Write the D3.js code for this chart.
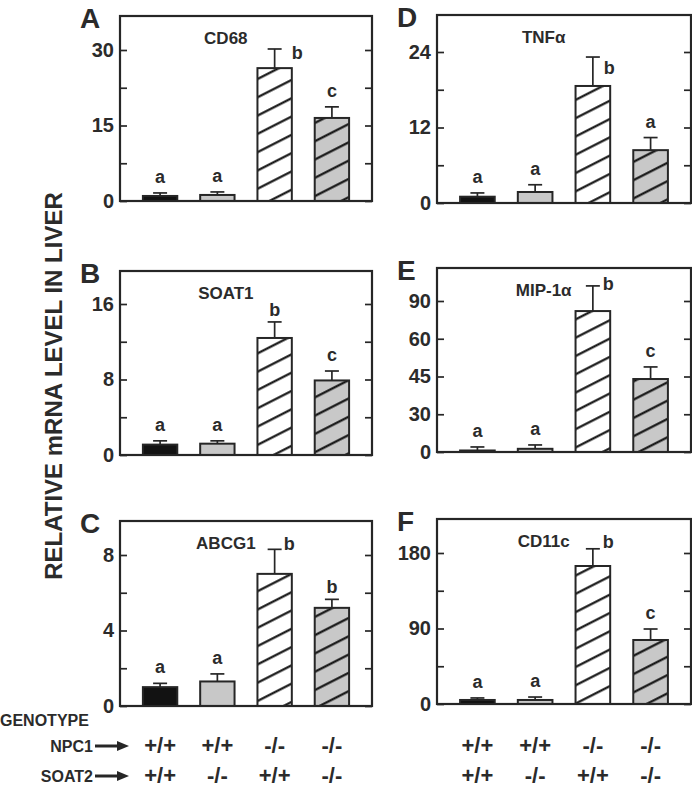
<!DOCTYPE html>
<html>
<head>
<meta charset="utf-8">
<script src="https://cdn.jsdelivr.net/npm/d3@7"></script>
<style>
  html, body { margin: 0; padding: 0; background: #fff; }
  svg { display: block; }
  text { font-family: "Liberation Sans", Arial, Helvetica, sans-serif; font-weight: bold; fill: #2b2b2b; }
</style>
</head>
<body>
<script>
// ---------------- DATA ----------------
const groups = ["NPC1+/+ SOAT2+/+", "NPC1+/+ SOAT2-/-", "NPC1-/- SOAT2+/+", "NPC1-/- SOAT2-/-"];
const npc1Genotype = ["+/+", "+/+", "-/-", "-/-"];
const soat2Genotype = ["+/+", "-/-", "+/+", "-/-"];

const panelLetters = ["A", "B", "C", "D", "E", "F"];
const genes = ["CD68", "SOAT1", "ABCG1", "TNFα", "MIP-1α", "CD11c"];

// means and error (SEM) per gene, order = groups
const meanCD68 = [1.0, 1.2, 26.4, 16.5];
const semCD68 = [0.6, 0.6, 3.8, 2.2];
const meanSOAT1 = [1.1, 1.2, 12.4, 7.9];
const semSOAT1 = [0.4, 0.3, 1.7, 1.0];
const meanABCG1 = [1.0, 1.3, 7.0, 5.2];
const semABCG1 = [0.2, 0.4, 1.3, 0.45];
const meanTNFa = [1.0, 1.75, 18.6, 8.4];
const semTNFa = [0.6, 1.15, 4.6, 2.0];
const meanMIP1a = [0.9, 1.9, 84.0, 43.5];
const semMIP1a = [2.1, 2.3, 15.0, 7.2];
const meanCD11c = [4.8, 4.8, 164.5, 76.3];
const semCD11c = [2.4, 3.5, 20.5, 13.1];

// significance letters
const sigCD68 = ["a", "a", "b", "c"];
const sigSOAT1 = ["a", "a", "b", "c"];
const sigABCG1 = ["a", "a", "b", "b"];
const sigTNFa = ["a", "a", "b", "a"];
const sigMIP1a = ["a", "a", "b", "c"];
const sigCD11c = ["a", "a", "b", "c"];

// y ticks (positions) and tick labels as printed
const ticksCD68 = [0, 7.5, 15, 22.5, 30];
const tickLabelsCD68 = ["0", "", "15", "", "30"];
const ticksSOAT1 = [0, 4, 8, 12, 16];
const tickLabelsSOAT1 = ["0", "", "8", "", "16"];
const ticksABCG1 = [0, 2, 4, 6, 8];
const tickLabelsABCG1 = ["0", "", "4", "", "8"];
const ticksTNFa = [0, 6, 12, 18, 24];
const tickLabelsTNFa = ["0", "", "12", "", "24"];
const ticksMIP1a = [0, 22.5, 45, 67.5, 90];
const tickLabelsMIP1a = ["0", "30", "45", "60", "90"];
const ticksCD11c = [0, 45, 90, 135, 180];
const tickLabelsCD11c = ["0", "", "90", "", "180"];

const yAxisTitle = "RELATIVE mRNA LEVEL IN LIVER";
const genotypeTitle = "GENOTYPE";
const rowLabels = ["NPC1", "SOAT2"];

// ---------------- LAYOUT ----------------
const W = 692, H = 789;
const ink = "#262626";
const fills = ["#121212", "#c8c8c8", "#ffffff", "#c8c8c8"];
const hatched = [false, false, true, true];

const panels = [
  { means: meanCD68, sems: semCD68, sig: sigCD68, ticks: ticksCD68, labels: tickLabelsCD68,
    x0: 120, x1: 372, top: 16, bottom: 201, side: { dx: 17, dy: 10 } },
  { means: meanSOAT1, sems: semSOAT1, sig: sigSOAT1, ticks: ticksSOAT1, labels: tickLabelsSOAT1,
    x0: 120, x1: 372, top: 271, bottom: 455, side: null },
  { means: meanABCG1, sems: semABCG1, sig: sigABCG1, ticks: ticksABCG1, labels: tickLabelsABCG1,
    x0: 120, x1: 372, top: 521, bottom: 706, side: { dx: 9, dy: 1 } },
  { means: meanTNFa, sems: semTNFa, sig: sigTNFa, ticks: ticksTNFa, labels: tickLabelsTNFa,
    x0: 437, x1: 691, top: 15, bottom: 203, side: { dx: 11, dy: 17 } },
  { means: meanMIP1a, sems: semMIP1a, sig: sigMIP1a, ticks: ticksMIP1a, labels: tickLabelsMIP1a,
    x0: 437, x1: 691, top: 268, bottom: 452, side: { dx: 10, dy: 4 } },
  { means: meanCD11c, sems: semCD11c, sig: sigCD11c, ticks: ticksCD11c, labels: tickLabelsCD11c,
    x0: 437, x1: 691, top: 519, bottom: 704, side: { dx: 10, dy: -1 } }
];
const tickSpan = 151;

const svg = d3.select("body").append("svg").attr("width", W).attr("height", H);

// hatch pattern
const defs = svg.append("defs");
const pat = defs.append("pattern")
  .attr("id", "hatch").attr("patternUnits", "userSpaceOnUse")
  .attr("width", 40).attr("height", 16.3)
  .attr("patternTransform", "rotate(-27)");
pat.append("line").attr("x1", 0).attr("x2", 40).attr("y1", 8).attr("y2", 8)
  .attr("stroke", "#0d0d0d").attr("stroke-width", 2.3);

panels.forEach((p, pi) => {
  const g = svg.append("g");
  const x = d3.scaleBand().domain(groups).range([p.x0, p.x1]).paddingInner(0.4).paddingOuter(0.4);
  const maxTick = p.ticks[p.ticks.length - 1];
  const y = d3.scaleLinear().domain([0, maxTick]).range([p.bottom, p.bottom - tickSpan]);

  // bars
  groups.forEach((grp, i) => {
    const bx = x(grp), bw = x.bandwidth(), by = y(p.means[i]);
    g.append("rect").attr("x", bx).attr("y", by).attr("width", bw).attr("height", p.bottom - by)
      .attr("fill", fills[i]);
    if (hatched[i]) {
      g.append("rect").attr("x", bx).attr("y", by).attr("width", bw).attr("height", p.bottom - by)
        .attr("fill", "url(#hatch)");
    }
    g.append("rect").attr("x", bx).attr("y", by).attr("width", bw).attr("height", p.bottom - by)
      .attr("fill", "none").attr("stroke", ink).attr("stroke-width", 2);
    // error bar
    const cx = bx + bw / 2, ey = y(p.means[i] + p.sems[i]);
    g.append("line").attr("x1", cx).attr("x2", cx).attr("y1", by).attr("y2", ey)
      .attr("stroke", ink).attr("stroke-width", 1.7);
    g.append("line").attr("x1", cx - 7).attr("x2", cx + 7).attr("y1", ey).attr("y2", ey)
      .attr("stroke", ink).attr("stroke-width", 1.7);
    // significance letter
    const t = g.append("text").attr("font-size", 18).text(p.sig[i]);
    if (i === 2 && p.side) {
      t.attr("x", cx + p.side.dx).attr("y", ey + p.side.dy).attr("text-anchor", "start");
    } else {
      const dy = p.sig[i] === "b" ? -6 : -10;
      t.attr("x", cx).attr("y", ey + dy).attr("text-anchor", "middle");
    }
  });

  // axes
  const left = d3.axisLeft(y).tickValues(p.ticks).tickSize(-7).tickPadding(6)
    .tickFormat((d, i) => p.labels[i]);
  const la = g.append("g").attr("transform", `translate(${p.x0},0)`).call(left);
  la.select(".domain").remove();
  la.selectAll("line").attr("stroke", ink).attr("stroke-width", 1.7);
  la.selectAll("text").attr("font-size", 20).attr("fill", ink)
    .style("font-family", '"Liberation Sans", Arial, sans-serif').style("font-weight", "bold");

  const right = d3.axisRight(y).tickValues(p.ticks).tickSize(-7).tickFormat("");
  const ra = g.append("g").attr("transform", `translate(${p.x1},0)`).call(right);
  ra.select(".domain").remove();
  ra.selectAll("line").attr("stroke", ink).attr("stroke-width", 1.7);

  // frame
  g.append("rect").attr("x", p.x0).attr("y", p.top).attr("width", p.x1 - p.x0).attr("height", p.bottom - p.top)
    .attr("fill", "none").attr("stroke", ink).attr("stroke-width", 2.2);

  // gene title
  g.append("text").attr("x", p.x0 + 0.42 * (p.x1 - p.x0)).attr("y", p.top + 28)
    .attr("text-anchor", "middle").attr("font-size", 17).text(genes[pi]);
  // panel letter
  g.append("text").attr("x", p.x0 - 40).attr("y", p.top + 12)
    .attr("font-size", 28).text(panelLetters[pi]);
});

// y axis title
svg.append("text").attr("transform", "translate(62,386) rotate(-90)")
  .attr("text-anchor", "middle").attr("font-size", 24).text(yAxisTitle);

// genotype block
svg.append("text").attr("x", 0).attr("y", 726).attr("font-size", 16).text(genotypeTitle);
const rowY = [752, 782];
rowLabels.forEach((lab, r) => {
  svg.append("text").attr("x", 93).attr("y", rowY[r]).attr("text-anchor", "end")
    .attr("font-size", 16).text(lab);
  const ay = rowY[r] - 6;
  svg.append("line").attr("x1", 95).attr("x2", 119).attr("y1", ay).attr("y2", ay)
    .attr("stroke", ink).attr("stroke-width", 3);
  svg.append("path").attr("d", `M117,${ay - 5} L129,${ay} L117,${ay + 5} Z`).attr("fill", ink);
});
[0, 3].forEach(pi => {
  const p = panels[pi];
  const x = d3.scaleBand().domain(groups).range([p.x0, p.x1]).paddingInner(0.4).paddingOuter(0.4);
  [npc1Genotype, soat2Genotype].forEach((arr, r) => {
    groups.forEach((grp, i) => {
      svg.append("text").attr("x", x(grp) + x.bandwidth() / 2).attr("y", rowY[r] + 1)
        .attr("text-anchor", "middle").attr("font-size", 22).text(arr[i]);
    });
  });
});
</script>
</body>
</html>
